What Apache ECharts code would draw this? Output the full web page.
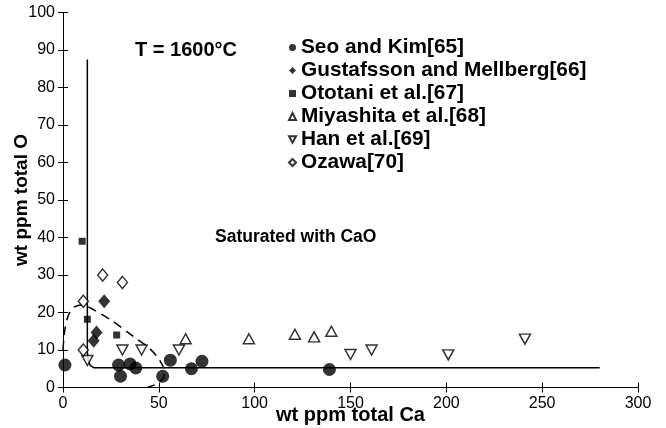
<!DOCTYPE html>
<html>
<head>
<meta charset="utf-8">
<script src="https://cdn.jsdelivr.net/npm/echarts@6/dist/echarts.min.js"></script>
<style>
  html, body { margin: 0; padding: 0; background: #fff; }
  #myChart { width: 666px; height: 428px; }
</style>
</head>
<body>
<div id="myChart"></div>
<script>
// data: [wt ppm Ca, wt ppm O]
var seoKim = [[1, 6], [29, 6], [30, 3], [35, 6.3], [38, 5.2], [52, 3], [56, 7.3], [67, 5], [72.5, 7], [139, 4.8]];
var gustafsson = [[21.5, 23], [17.5, 14.7], [16, 12.5]];
var ototani = [[10, 39], [12.7, 18.2], [28, 14]];
var miyashita = [[64, 13], [97, 13], [121, 14.2], [131, 13.5], [140, 15]];
var han = [[12.7, 7.2], [31, 10], [41, 10], [60.5, 10], [150, 8.8], [161, 10], [201, 8.7], [241, 12.9]];
var ozawa = [[20.7, 30], [31, 28], [10.6, 23], [10.6, 10]];

// saturation boundary (solid) and the dashed region
var saturationLine = [[12.7, 87.5], [12.7, 9.5], [13.1, 7.3], [14.2, 5.9], [16, 5.3], [280, 5.3]];
var dashedRegion = [[0, 10], [1, 15.5], [3, 19.5], [6, 21.5], [10, 22], [15, 21], [25, 18], [37, 13.5], [45, 10.5], [50.5, 7.2], [53, 4], [52, 2.3], [49, 1], [44, 0]];

var font = "'Liberation Sans', Arial, Helvetica, sans-serif";

var myChart = echarts.init(document.getElementById('myChart'));

var openStyle = { color: '#fff', borderColor: '#000', borderWidth: 1.5 };
var fillStyle = { color: '#000' };

function axisBase(extra) {
    var o = {
        type: 'value',
        axisLine: { show: true, lineStyle: { color: '#000', width: 1 } },
        axisTick: { show: true, inside: true, length: 5, lineStyle: { color: '#000' } },
        splitLine: { show: false },
        axisLabel: { color: '#000', fontSize: 16, fontFamily: font, margin: 8 }
    };
    for (var k in extra) o[k] = extra[k];
    return o;
}

myChart.setOption({
    animation: false,
    backgroundColor: '#fff',
    grid: { left: 63, right: 28, top: 12.5, bottom: 40.5, containLabel: false, outerBoundsMode: 'none' },
    legend: {
        orient: 'vertical',
        left: 288,
        top: 37,
        padding: 0,
        itemWidth: 7,
        itemHeight: 7,
        itemGap: 2,
        textStyle: { color: '#000', fontSize: 20.8, fontWeight: 'bold', fontFamily: font },
        data: ['Seo and Kim[65]', 'Gustafsson and Mellberg[66]', 'Ototani et al.[67]', 'Miyashita et al.[68]', 'Han et al.[69]', 'Ozawa[70]']
    },
    xAxis: [
        axisBase({
            min: 0, max: 300, interval: 50,
            name: 'wt ppm total Ca', nameLocation: 'middle', nameGap: 18, nameMoveOverlap: false,
            nameTextStyle: { color: '#000', fontSize: 20, fontWeight: 'bold', fontFamily: font }
        }),
        axisBase({ min: 0, max: 300, interval: 50, position: 'top', axisLabel: { show: false } })
    ],
    yAxis: [
        axisBase({
            min: 0, max: 100, interval: 10,
            name: 'wt ppm total O', nameLocation: 'middle', nameGap: 32, nameMoveOverlap: false,
            nameTextStyle: { color: '#000', fontSize: 19, fontWeight: 'bold', fontFamily: font }
        }),
        axisBase({ min: 0, max: 100, interval: 10, position: 'right', axisLabel: { show: false } })
    ],
    graphic: [
        { type: 'text', left: 135, top: 40, style: { text: 'T = 1600°C', fill: '#000', font: 'bold 20px ' + font } },
        { type: 'text', left: 215, top: 228, style: { text: 'Saturated with CaO', fill: '#000', font: 'bold 17.5px ' + font } }
    ],
    series: [
        {
            name: 'saturation', type: 'line', data: saturationLine, showSymbol: false, silent: true,
            lineStyle: { color: '#000', width: 1.5 }, z: 1
        },
        {
            name: 'region', type: 'line', data: dashedRegion, showSymbol: false, silent: true, smooth: 0.3,
            lineStyle: { color: '#000', width: 1.5, type: [9, 6] }, z: 1
        },
        { name: 'Seo and Kim[65]', type: 'scatter', data: seoKim, symbol: 'circle', symbolSize: 13, itemStyle: fillStyle, z: 3 },
        { name: 'Gustafsson and Mellberg[66]', type: 'scatter', data: gustafsson, symbol: 'diamond', symbolSize: [12, 14], itemStyle: fillStyle, z: 3 },
        { name: 'Ototani et al.[67]', type: 'scatter', data: ototani, symbol: 'rect', symbolSize: 7, itemStyle: fillStyle, z: 3 },
        { name: 'Miyashita et al.[68]', type: 'scatter', data: miyashita, symbol: 'triangle', symbolSize: [11, 10], itemStyle: openStyle, z: 3 },
        { name: 'Han et al.[69]', type: 'scatter', data: han, symbol: 'path://M0,0 L10,0 L5,9 Z', symbolSize: [11, 10], itemStyle: openStyle, z: 3 },
        { name: 'Ozawa[70]', type: 'scatter', data: ozawa, symbol: 'diamond', symbolSize: [10, 12], itemStyle: openStyle, z: 3 }
    ]
});
</script>
</body>
</html>
